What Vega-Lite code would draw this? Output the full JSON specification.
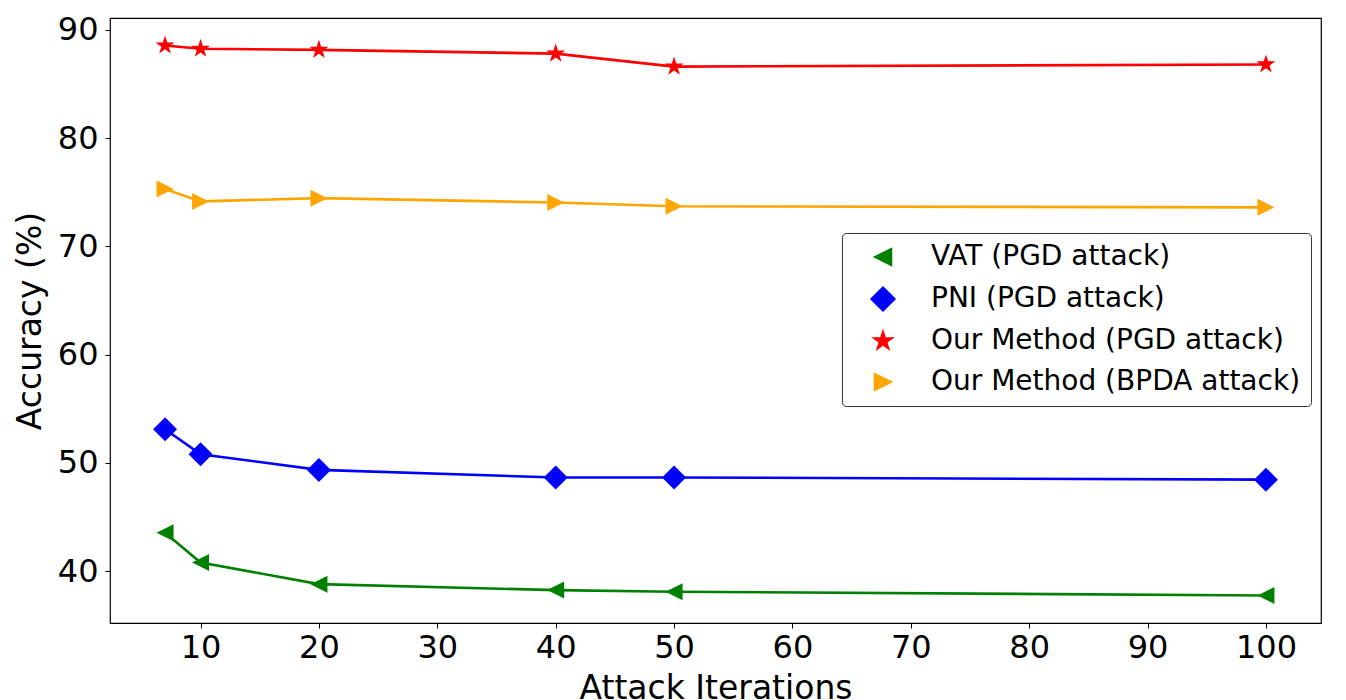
{
  "$schema": "https://vega.github.io/schema/vega-lite/v6.json",
  "autosize": "none",
  "width": 1211,
  "height": 605,
  "padding": {"left": 110, "top": 18, "right": 25, "bottom": 77},
  "background": "white",
  "config": {
    "font": "DejaVu Sans",
    "view": {"stroke": "black", "strokeWidth": 1.2},
    "axis": {
      "grid": false,
      "domain": false,
      "ticks": true,
      "tickColor": "black",
      "tickSize": 5,
      "labelColor": "black",
      "labelFont": "DejaVu Sans",
      "labelFontSize": 32,
      "titleColor": "black",
      "titleFont": "DejaVu Sans",
      "titleFontSize": 33,
      "titleFontWeight": "normal"
    }
  },
  "data": {
    "values": [
      {"method": "VAT (PGD attack)", "iter": 7, "acc": 43.55},
      {"method": "VAT (PGD attack)", "iter": 10, "acc": 40.8},
      {"method": "VAT (PGD attack)", "iter": 20, "acc": 38.8},
      {"method": "VAT (PGD attack)", "iter": 40, "acc": 38.25},
      {"method": "VAT (PGD attack)", "iter": 50, "acc": 38.1},
      {"method": "VAT (PGD attack)", "iter": 100, "acc": 37.75},
      {"method": "PNI (PGD attack)", "iter": 7, "acc": 53.1},
      {"method": "PNI (PGD attack)", "iter": 10, "acc": 50.8},
      {"method": "PNI (PGD attack)", "iter": 20, "acc": 49.35},
      {"method": "PNI (PGD attack)", "iter": 40, "acc": 48.65},
      {"method": "PNI (PGD attack)", "iter": 50, "acc": 48.65},
      {"method": "PNI (PGD attack)", "iter": 100, "acc": 48.45},
      {"method": "Our Method (PGD attack)", "iter": 7, "acc": 88.55},
      {"method": "Our Method (PGD attack)", "iter": 10, "acc": 88.25},
      {"method": "Our Method (PGD attack)", "iter": 20, "acc": 88.15},
      {"method": "Our Method (PGD attack)", "iter": 40, "acc": 87.8},
      {"method": "Our Method (PGD attack)", "iter": 50, "acc": 86.6},
      {"method": "Our Method (PGD attack)", "iter": 100, "acc": 86.8},
      {"method": "Our Method (BPDA attack)", "iter": 7, "acc": 75.3},
      {"method": "Our Method (BPDA attack)", "iter": 10, "acc": 74.15},
      {"method": "Our Method (BPDA attack)", "iter": 20, "acc": 74.45},
      {"method": "Our Method (BPDA attack)", "iter": 40, "acc": 74.05},
      {"method": "Our Method (BPDA attack)", "iter": 50, "acc": 73.7},
      {"method": "Our Method (BPDA attack)", "iter": 100, "acc": 73.6}
    ]
  },
  "encoding": {
    "x": {
      "field": "iter",
      "type": "quantitative",
      "title": "Attack Iterations",
      "scale": {"domain": [2.35, 104.65], "nice": false, "zero": false},
      "axis": {"values": [10, 20, 30, 40, 50, 60, 70, 80, 90, 100], "labelPadding": 4, "titlePadding": 9}
    },
    "y": {
      "field": "acc",
      "type": "quantitative",
      "title": "Accuracy (%)",
      "scale": {"domain": [35.21, 91.09], "nice": false, "zero": false},
      "axis": {"values": [40, 50, 60, 70, 80, 90], "labelPadding": 7, "titlePadding": 10}
    }
  },
  "layer": [
    {
      "mark": {"type": "point", "filled": true, "size": 400, "opacity": 1},
      "encoding": {
        "color": {
          "field": "method",
          "type": "nominal",
          "scale": {
            "domain": ["VAT (PGD attack)", "PNI (PGD attack)", "Our Method (PGD attack)", "Our Method (BPDA attack)"],
            "range": ["#008000", "#0000ff", "#ff0000", "#ffa500"]
          },
          "legend": {
            "title": null,
            "orient": "none",
            "legendX": 732,
            "legendY": 215,
            "padding": 10,
            "symbolSize": 400,
            "symbolOffset": 17,
            "symbolOpacity": 1,
            "labelOffset": 34,
            "labelFontSize": 28,
            "labelFont": "DejaVu Sans",
            "labelColor": "black",
            "labelLimit": 600,
            "rowPadding": 13,
            "strokeColor": "#333333",
            "fillColor": "white",
            "cornerRadius": 4,
            "encode": {
              "symbols": {
                "update": {
                  "size": {"value": 400},
                  "opacity": {"value": 1},
                  "fill": {"scale": "color", "field": "value"},
                  "stroke": {"value": "transparent"},
                  "shape": {"signal": "datum.value === 'VAT (PGD attack)' ? 'M-2.9,-0.13L2.9,-0.13L2.9,0.13L-2.9,0.13ZM-0.85,0L0.85,-0.85L0.85,0.85Z' : datum.value === 'PNI (PGD attack)' ? 'M-2.9,-0.13L2.9,-0.13L2.9,0.13L-2.9,0.13ZM0,-1.15L1.15,0L0,1.15L-1.15,0Z' : datum.value === 'Our Method (PGD attack)' ? 'M-2.9,-0.13L2.9,-0.13L2.9,0.13L-2.9,0.13ZM0,-0.7L0.157,-0.216L0.666,-0.216L0.254,0.083L0.411,0.566L0,0.267L-0.411,0.566L-0.254,0.083L-0.666,-0.216L-0.157,-0.216Z' : 'M-2.9,-0.13L2.9,-0.13L2.9,0.13L-2.9,0.13ZM0.85,0L-0.85,0.85L-0.85,-0.85Z'"}
                }
              }
            }
          }
        },
        "shape": {
          "field": "method",
          "type": "nominal",
          "legend": null,
          "scale": {
            "domain": ["VAT (PGD attack)", "PNI (PGD attack)", "Our Method (PGD attack)", "Our Method (BPDA attack)"],
            "range": [
              "M-0.85,0L0.85,-0.85L0.85,0.85Z",
              "M0,-1.2L1.2,0L0,1.2L-1.2,0Z",
              "M0,-1L0.225,-0.309L0.951,-0.309L0.363,0.118L0.588,0.809L0,0.382L-0.588,0.809L-0.363,0.118L-0.951,-0.309L-0.225,-0.309Z",
              "M0.85,0L-0.85,-0.85L-0.85,0.85Z"
            ]
          }
        }
      }
    },
    {
      "mark": {"type": "line", "strokeWidth": 2.6},
      "encoding": {
        "color": {"field": "method", "type": "nominal"}
      }
    }
  ]
}
